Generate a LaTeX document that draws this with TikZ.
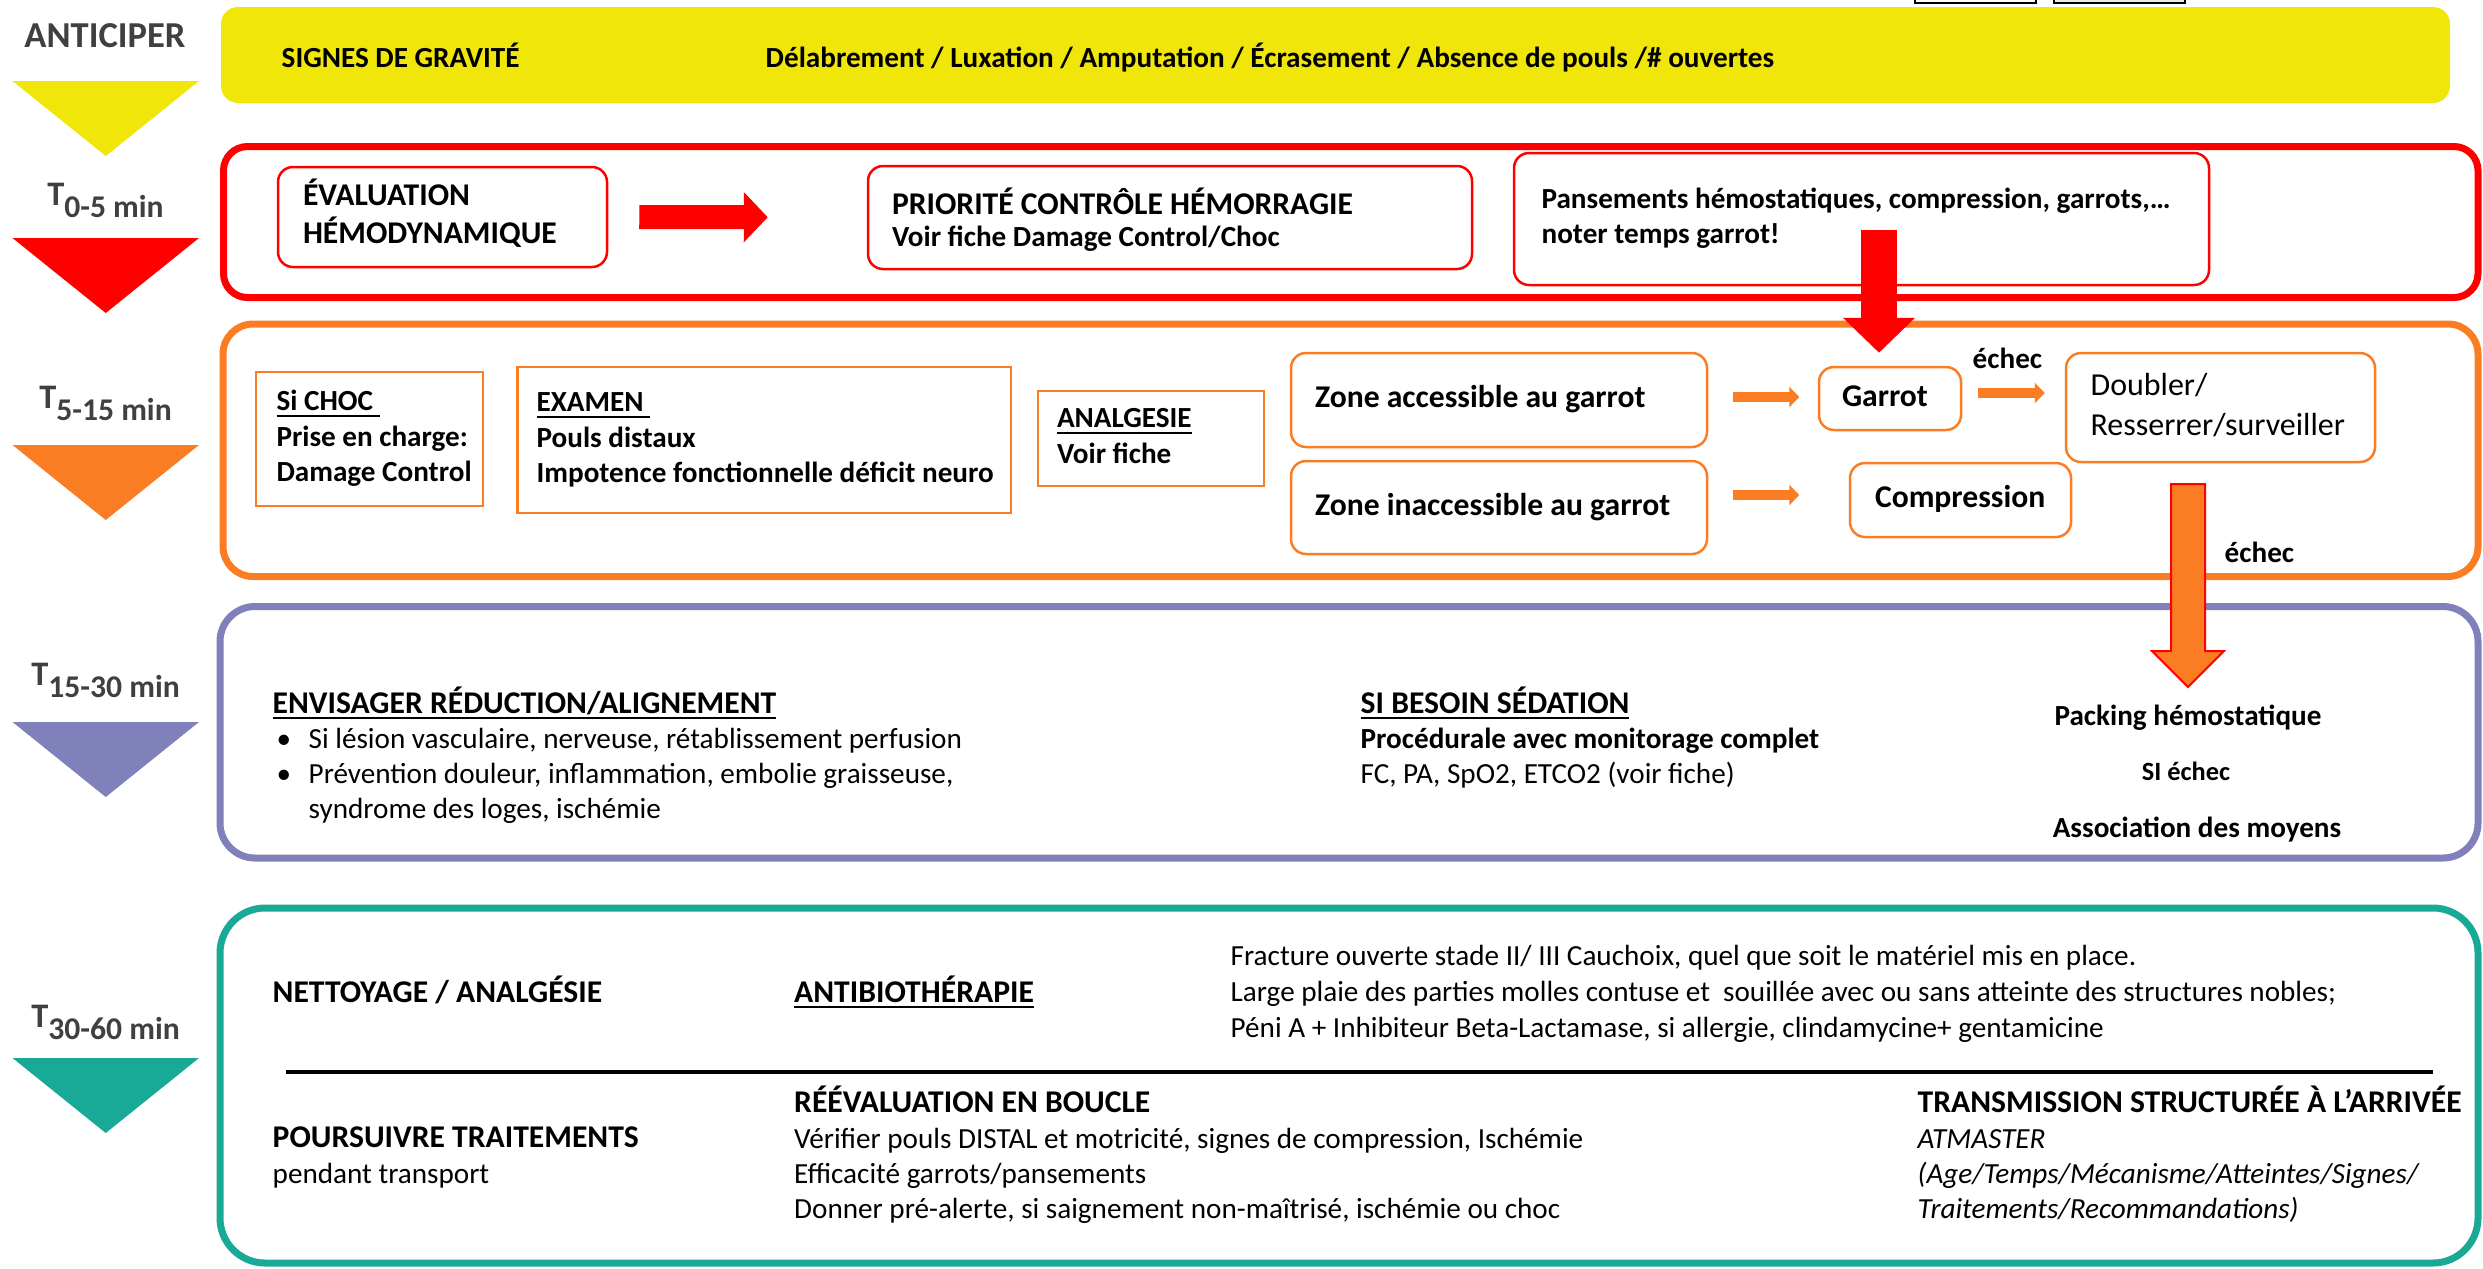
\documentclass[tikz,border=0pt]{standalone}
\usepackage{fontspec}
\setmainfont{Carlito}
\usetikzlibrary{arrows.meta}

\definecolor{yellowC}{RGB}{240,230,10}
\definecolor{redC}{RGB}{255,0,0}
\definecolor{orangeC}{RGB}{250,125,35}
\definecolor{purpleC}{RGB}{128,128,186}
\definecolor{tealC}{RGB}{24,170,150}
\definecolor{grayT}{RGB}{64,64,64}

\newcommand{\sz}[2]{\fontsize{#1}{#2}\selectfont}
\newcommand{\inbox}[2]{\makebox[#1][l]{\begin{tabular}{@{}l@{}}#2\end{tabular}}}
\newcommand{\undl}[1]{\underline{\smash{#1}}}

\tikzset{
  stageframe/.style={line width=0.7mm, rounded corners=2.4mm},
  rbox/.style={draw=redC, line width=0.25mm, rounded corners=1.5mm, inner ysep=0pt, font=\bfseries\sz{9}{10.8}},
  obox/.style={draw=orangeC, line width=0.25mm, rounded corners=1.5mm, inner ysep=0pt, font=\bfseries\sz{9}{11}},
  osq/.style={draw=orangeC, line width=0.25mm, inner ysep=0pt, font=\bfseries\sz{8.3}{10}},
  txt/.style={anchor=base west, inner sep=0pt, font=\sz{8.3}{10}},
  btxt/.style={txt, font=\bfseries\sz{8.3}{10}},
  htxt/.style={txt, font=\bfseries\sz{9}{10.8}},
  tlabel/.style={anchor=base, inner sep=0pt, text=grayT, font=\bfseries\sz{9.8}{11}},
  fatarrow/.style={redC, line width=2.4mm, -{Triangle[length=2.4mm,width=4.9mm]}},
  smallarrow/.style={orangeC, line width=1mm, -{Triangle[length=1mm,width=2mm]}},
}

\begin{document}
\begin{tikzpicture}[x=0.1mm,y=-0.1mm]
\useasboundingbox (0,0) rectangle (2483,1268);

% time line on the left
\foreach \c/\t in {yellowC/81,redC/238,orangeC/445,purpleC/722,tealC/1058}
  \fill[\c] (12.5,\t) -- (199,\t) -- (105.75,\t+75) -- cycle;
\node[tlabel, font=\bfseries\sz{10.4}{12}] (anticiper) at (105,47) {ANTICIPER};
\foreach \s/\yy [count=\i] in {0-5/205,5-15/408,15-30/685,30-60/1027}
  \node[tlabel] (time\i) at (105.5,\yy) {T\raisebox{-1.2mm}{\sz{9}{10}\s\ min}};

% bits of boxes cut at the top edge
\draw[line width=0.2mm] (1915,-20) rectangle (2036,3);
\filldraw[fill=black!8,line width=0.2mm] (2054,-20) rectangle (2185,3);

% anticiper
\fill[yellowC, rounded corners=1.7mm] (221,7) rectangle (2450,103);
\node[btxt] (signes) at (281,67) {SIGNES DE GRAVITÉ};
\node[btxt] (liste) at (765,67) {Délabrement / Luxation / Amputation / Écrasement / Absence de pouls /\# ouvertes};

% T 0-5 min
\draw[stageframe,redC] (223.5,146.5) rectangle (2478,297.5);
\node[rbox, minimum width=32.9mm, minimum height=10mm, inner xsep=2.5mm] (eval) at (442.5,217)
  {\inbox{27.9mm}{ÉVALUATION\\HÉMODYNAMIQUE}};
\node[rbox, minimum width=60.4mm, minimum height=10.3mm, inner xsep=2.4mm, font=\bfseries\sz{9}{9.2}] (prio) at (1170,217.5)
  {\inbox{55.6mm}{\rule{0pt}{10pt}PRIORITÉ CONTRÔLE HÉMORRAGIE\\\sz{8.3}{9.2}Voir fiche Damage Control/Choc}};
\node[rbox, minimum width=69.5mm, minimum height=13.2mm, inner xsep=2.76mm, font=\bfseries\sz{8.3}{10}] (pans) at (1861.5,219)
  {\inbox{63.98mm}{Pansements hémostatiques, compression, garrots,…\\noter temps garrot!}};
\draw[fatarrow, shorten <=3.1mm, shorten >=9.9mm] (eval) -- (prio);

% T 5-15 min
\draw[stageframe,orangeC,rounded corners=3mm] (223,324) rectangle (2478,576.5);
\node[osq, minimum width=22.7mm, minimum height=13.4mm, inner xsep=2.05mm] (choc) at (369.5,439)
  {\inbox{18.6mm}{\undl{Si CHOC\ }\\Prise en charge:\\Damage Control}};
\node[osq, minimum width=49.35mm, minimum height=14.6mm, inner xsep=1.91mm] (examen) at (764.25,440)
  {\inbox{45.53mm}{\undl{EXAMEN\ }\\Pouls distaux\\Impotence fonctionnelle déficit neuro}};
\node[osq, minimum width=22.6mm, minimum height=9.5mm, inner xsep=1.9mm] (analg) at (1151,438.5)
  {\inbox{18.8mm}{\undl{ANALGESIE}\\Voir fiche}};
\node[obox, minimum width=41.6mm, minimum height=9.4mm, inner xsep=2.4mm] (zacc) at (1499,400)
  {\inbox{36.8mm}{Zone accessible au garrot}};
\node[obox, minimum width=41.6mm, minimum height=9.3mm, inner xsep=2.4mm] (zinacc) at (1499,507.5)
  {\inbox{36.8mm}{Zone inaccessible au garrot}};
\node[obox, minimum width=14.2mm, minimum height=6.3mm, inner xsep=2.3mm] (garrot) at (1890,398.5)
  {\inbox{9.6mm}{Garrot}};
\node[obox, minimum width=30.9mm, minimum height=10.9mm, inner xsep=2.46mm, font=\sz{9.1}{11.4}] (doubler) at (2220.5,407.5)
  {\inbox{25.98mm}{Doubler/\\Resserrer/surveiller}};
\node[obox, minimum width=22.1mm, minimum height=7.4mm, inner xsep=2.5mm] (comp) at (1960.5,500)
  {\inbox{17.1mm}{Compression}};

\coordinate (pansfoot) at (1879,230);
\draw[fatarrow, line width=3.6mm, -{Triangle[length=3.5mm,width=7mm]}, shorten >=1.3mm] (pansfoot) -- (pansfoot |- garrot.north);
\draw[smallarrow, shorten <=2.45mm, shorten >=1.85mm] ([yshift=0.3mm]zacc.east) -- ([yshift=0.3mm]zacc.east -| garrot.west);
\draw[smallarrow, shorten <=1.6mm, shorten >=2mm] ([yshift=0.55mm]garrot.east) -- ([yshift=0.55mm]garrot.east -| doubler.west);
\draw[smallarrow, shorten <=2.45mm, shorten >=4.95mm] ([yshift=1.25mm]zinacc.east) -- ([yshift=1.25mm]zinacc.east -| comp.west);
\node[btxt] (echec1) at (1972,368) {échec};
\node[btxt] (echec2) at (2224,562) {échec};

% T 15-30 min
\draw[stageframe,purpleC,rounded corners=3.5mm] (220,606.5) rectangle (2478,858);
\node[htxt] (reduc) at (272,713) {\undl{ENVISAGER RÉDUCTION/ALIGNEMENT}};
\node[txt] (reducpts) at (276,748) {\begin{tabular}[t]{@{}l@{}}
  \makebox[3.2mm][l]{\textbullet}Si lésion vasculaire, nerveuse, rétablissement perfusion\\
  \makebox[3.2mm][l]{\textbullet}Prévention douleur, inflammation, embolie graisseuse,\\
  \hspace*{3.2mm}syndrome des loges, ischémie\end{tabular}};
\node[htxt] (sedat) at (1360,713) {\undl{SI BESOIN SÉDATION}};
\node[btxt] (proced) at (1360,748) {Procédurale avec monitorage complet};
\node[txt] (monit) at (1360,783) {FC, PA, SpO2, ETCO2 (voir fiche)};
\node[btxt, anchor=base] (packing) at (2188,725) {Packing hémostatique};
\node[btxt, anchor=base, font=\bfseries\sz{7.5}{9}] (siechec) at (2186,780) {SI échec};
\node[btxt, anchor=base] (assoc) at (2197,837) {Association des moyens};
% big arrow down to the packing
\coordinate (failtop) at (2188,484);
\filldraw[fill=orangeC, draw=redC, line width=0.2mm] (failtop) ++(-17,0) -- ++(34,0) -- ++(0,167)
  -- ++(19,0) -- ++(-36,36) -- ++(-36,-36) -- ++(19,0) -- cycle;

% T 30-60 min
\draw[stageframe,tealC,rounded corners=4.5mm] (220,908) rectangle (2478,1263);
\node[htxt] (nettoy) at (272,1002) {NETTOYAGE / ANALGÉSIE};
\node[htxt] (antibio) at (793.5,1002) {\undl{ANTIBIOTHÉRAPIE}};
\node[txt, font=\sz{8.3}{10.3}] (indic) at (1230,965) {\begin{tabular}[t]{@{}l@{}}
  Fracture ouverte stade II/ III Cauchoix, quel que soit le matériel mis en place.\\
  Large plaie des parties molles contuse et \ souillée avec ou sans atteinte des structures nobles;\\
  Péni A + Inhibiteur Beta-Lactamase, si allergie, clindamycine+ gentamicine\end{tabular}};
\draw[line width=0.35mm] (286,1072) -- (2433,1072);
\node[htxt] (poursuiv) at (272,1147) {POURSUIVRE TRAITEMENTS};
\node[txt] (transp) at (272,1183) {pendant transport};
\node[htxt] (reeval) at (793.5,1112) {RÉÉVALUATION EN BOUCLE};
\node[txt] (reevalpts) at (793.5,1148) {\begin{tabular}[t]{@{}l@{}}
  Vérifier pouls DISTAL et motricité, signes de compression, Ischémie\\
  Efficacité garrots/pansements\\
  Donner pré-alerte, si saignement non-maîtrisé, ischémie ou choc\end{tabular}};
\node[htxt] (transm) at (1917,1112) {TRANSMISSION STRUCTURÉE À L’ARRIVÉE};
\node[txt, font=\itshape\sz{8.3}{10}] (atmaster) at (1917,1148) {\begin{tabular}[t]{@{}l@{}}
  ATMASTER\\
  (Age/Temps/Mécanisme/Atteintes/Signes/\\
  Traitements/Recommandations)\end{tabular}};
\end{tikzpicture}
\end{document}
